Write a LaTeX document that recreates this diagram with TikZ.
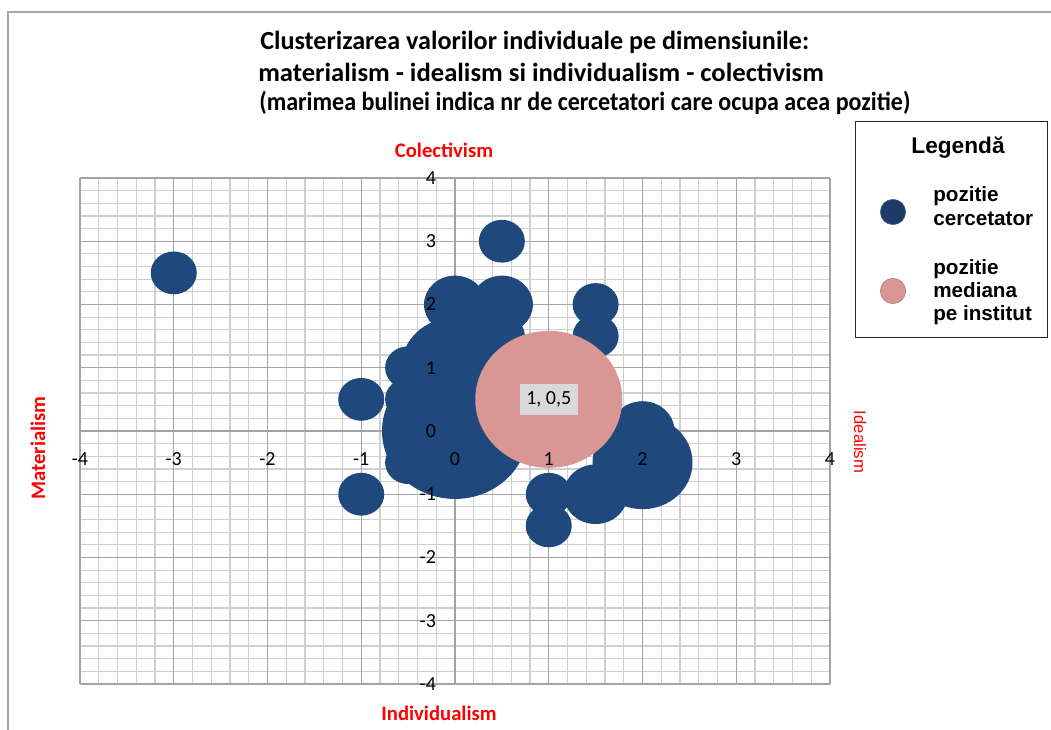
\documentclass[tikz,border=0pt]{standalone}
\usepackage{fontspec}
\setmainfont{Carlito}
\newfontfamily\legendfont{Liberation Sans}
\usetikzlibrary{positioning}
\definecolor{bubbleblue}{RGB}{31,73,125}
\definecolor{bubblepink}{RGB}{217,150,148}
\definecolor{markblue}{RGB}{30,58,105}
\definecolor{axisred}{RGB}{255,0,0}
\tikzset{
  minorgrid/.style={draw=gray!38, line width=0.9pt},
  majorgrid/.style={draw=gray!72, line width=0.9pt},
  titleline/.style={anchor=west, font=\bfseries\fontsize{19.6}{22.5}\selectfont, inner sep=0pt},
  ticklabel/.style={font=\fontsize{15}{18}\selectfont, inner sep=0pt},
  axistitle/.style={text=axisred, font=\bfseries\fontsize{15.5}{18}\selectfont},
  legendtext/.style={font=\legendfont\bfseries\fontsize{15.5}{17.5}\selectfont, align=left, anchor=west, inner sep=0pt},
}
\begin{document}
\begin{tikzpicture}[x=0.75pt,y=-0.75pt]
\useasboundingbox (0,0) rectangle (1051,730);
\draw[gray!70, line width=1.5pt] (8,730) -- (8,12) -- (1051,12);
\node[titleline] (title1) at (260,42) {Clusterizarea valorilor individuale pe dimensiunile:};
\node[titleline] (title2) at (258,72) {\scalebox{1.02}[1]{materialism - idealism si individualism - colectivism}};
\node[titleline] (title3) at (259,103) {\scalebox{0.92}[1]{(marimea bulinei indica nr de cercetatori care ocupa acea pozitie)}};
% plot area, one unit per tick
\begin{scope}[shift={(455,431)}, x=70.3125pt, y=47.4375pt]
\draw[minorgrid] (-4,-4) grid[xstep=0.2, ystep=0.2] (4,4);
\draw[majorgrid] (-4,-4) grid[step=1] (4,4);
\foreach \bx/\by/\br in {-3/2.5/23, 0.5/3/23, -1/0.5/23, -1/-1/23, 1.5/2/23, 1.5/1.5/23,
    1/-1/23, 1/-1.5/23, 0/2/31, 0.5/2/31, 0.5/1.5/23, -0.5/1/23, -0.5/0.5/23, -0.5/0/23,
    -0.5/-0.5/23, 0/1/54, 0/0/73, 2/0/32, 2/-0.5/50, 1.5/-1/32}
  \fill[bubbleblue] (\bx,\by) ellipse [x radius=\br*0.75pt, y radius=\br*0.698pt];
\fill[bubblepink] (1,0.5) ellipse [x radius=73.5*0.75pt, y radius=68.5*0.75pt];
\node (median) at (1,0.5) [fill=gray!30, font=\fontsize{15}{18}\selectfont, inner xsep=5pt, minimum height=23pt] {1, 0,5};
\foreach \t in {-4,...,4} {
  \node[ticklabel] (xt\t) at (\t,-0.44) {\t};
  \node[ticklabel, anchor=east] (yt\t) at (-0.2,\t) {\t};
}
\end{scope}
\node[axistitle] (colectiv) at (444,150) {Colectivism};
\node[axistitle] (individ) at (439,713) {Individualism};
\node[axistitle, rotate=90] (material) at (38,448) {Materialism};
\node[text=axisred, font=\legendfont\fontsize{12.5}{16}\selectfont, rotate=-90] (ideal) at (860,442) {Idealism};
% legend
\node[draw=black!85, line width=0.75pt, minimum width=144pt, minimum height=162pt, inner sep=0pt] (legend) at (951,230) {};
\node[font=\legendfont\bfseries\fontsize{17}{20}\selectfont] (legtitle) at (958,148) {Legendă};
\node[circle, fill=markblue, draw=markblue!80!white, minimum size=19pt, inner sep=0pt] (mblue) at (893,212) {};
\node[circle, fill=bubblepink, draw=bubblepink!80!black, minimum size=19pt, inner sep=0pt] (mpink) at (893,291) {};
\node[legendtext] (lblue) at (933,206) {pozitie\\cercetator};
\node[legendtext] (lpink) at (933,292) {pozitie\\mediana\\pe institut};
\end{tikzpicture}
\end{document}
